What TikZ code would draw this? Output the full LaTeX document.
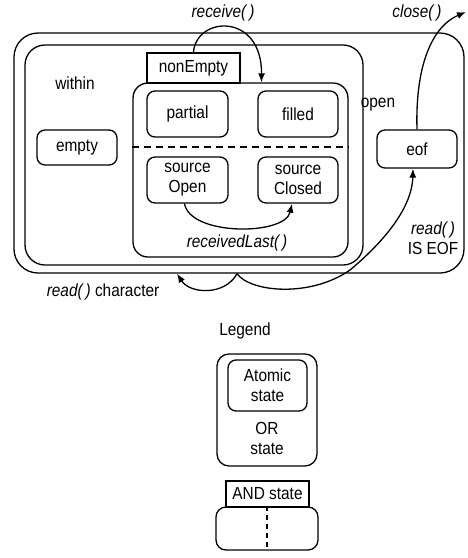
\documentclass[tikz,border=0pt]{standalone}
\usepackage{fontspec}
\setmainfont[FakeStretch=0.88]{Liberation Sans}
\usetikzlibrary{arrows.meta}
\tikzset{
  atomic/.style={draw, line width=1.3pt, rounded corners=8pt, inner sep=0pt, align=center},
  orbox/.style={draw, line width=1.3pt, rounded corners=#1, inner sep=0pt},
  tabbox/.style={draw, line width=1.3pt, inner sep=0pt, fill=white},
  trans/.style={line width=1.3pt, -{Latex[length=9pt,width=7pt]}},
  evt/.style={font=\fontsize{17.5}{20}\itshape}
}
\begin{document}
\begin{tikzpicture}[x=1pt, y=-1pt, font=\fontsize{17.5}{20}\selectfont]
    \useasboundingbox (0,0) rectangle (468,558);
    % OR states
    \node[orbox=24pt, minimum width=450, minimum height=240] (open) at (239,153) {};
    \node[orbox=20pt, minimum width=338, minimum height=220] (within) at (194,155) {};
    \node[orbox=15pt, minimum width=215, minimum height=174] (nonEmpty) at (240.5,170) {};
    \node[tabbox, minimum width=93, minimum height=30] (tab) at (193.5,68) {nonEmpty};
    \node (withinlbl) at (75,83) {within};
    \node (openlbl) at (378,105) {open};
    % AND split
    \draw[line width=1.3pt, dash pattern=on 7pt off 5pt] ([yshift=23pt]nonEmpty.west) -- ([yshift=23pt]nonEmpty.east);
    % Atomic states
    \node[atomic, minimum width=81, minimum height=46] (partial) at (187.5,114) {partial};
    \node[atomic, minimum width=80, minimum height=46] (filled) at (298,114) {filled};
    \node[atomic, minimum width=81, minimum height=46] (srcOpen) at (187.5,180) {source\\Open};
    \node[atomic, minimum width=80, minimum height=46] (srcClosed) at (298,180) {source\\Closed};
    \node[atomic, minimum width=80, minimum height=35] (empty) at (77,147.5) {empty};
    \node[atomic, minimum width=80, minimum height=38] (eof) at (417,149) {eof};
    % Transitions
    \coordinate (closeend) at (466,12);
    \coordinate (junction) at ([xshift=-2pt]open.south);
    \draw[trans] (tab.north) .. controls (196,16) and (262,12) .. ([xshift=21pt]nonEmpty.north);
    \draw[trans] (eof.north) .. controls (415,60) and (435,25) .. (closeend);
    \draw[trans] ([xshift=-3pt]srcOpen.south) .. controls (190,236) and (285,236) .. ([xshift=-6pt]srcClosed.south);
    \draw[trans] (junction) .. controls (225,296) and (190,294) .. ([xshift=-62pt]open.south);
    \draw[trans] (junction) .. controls (250,292) and (310,298) .. (350,270)
      .. controls (380,245) and (412,210) .. ([xshift=-4pt]eof.south);
    \node[evt] (receivelbl) at (223,13) {receive(\,)};
    \node[evt] (closelbl) at (417,13) {close(\,)};
    \node[evt] (lastlbl) at (237,243) {receivedLast(\,)};
    \node[align=center] (eoflbl) at (433,238) {\textit{read(\,)}\\IS EOF};
    \node (charlbl) at (103,292) {\textit{read(\,)} character};
    % Legend
    \node (legendlbl) at (245,331) {Legend};
    \node[orbox=12pt, minimum width=100, minimum height=112] (legOr) at (267,410) {};
    \node[atomic, minimum width=79, minimum height=51] (legAtomic) at (267.5,385.5) {Atomic\\state};
    \node[align=center] (legOrlbl) at (267,438) {OR\\state};
    \node[orbox=10pt, minimum width=102, minimum height=43] (legAnd) at (267,528.5) {};
    \node[tabbox, minimum width=83, minimum height=26] (legTab) at (267.5,494) {AND state};
    \draw[line width=1.3pt, dash pattern=on 5pt off 4pt] (legAnd.north) -- (legAnd.south);
\end{tikzpicture}
\end{document}
